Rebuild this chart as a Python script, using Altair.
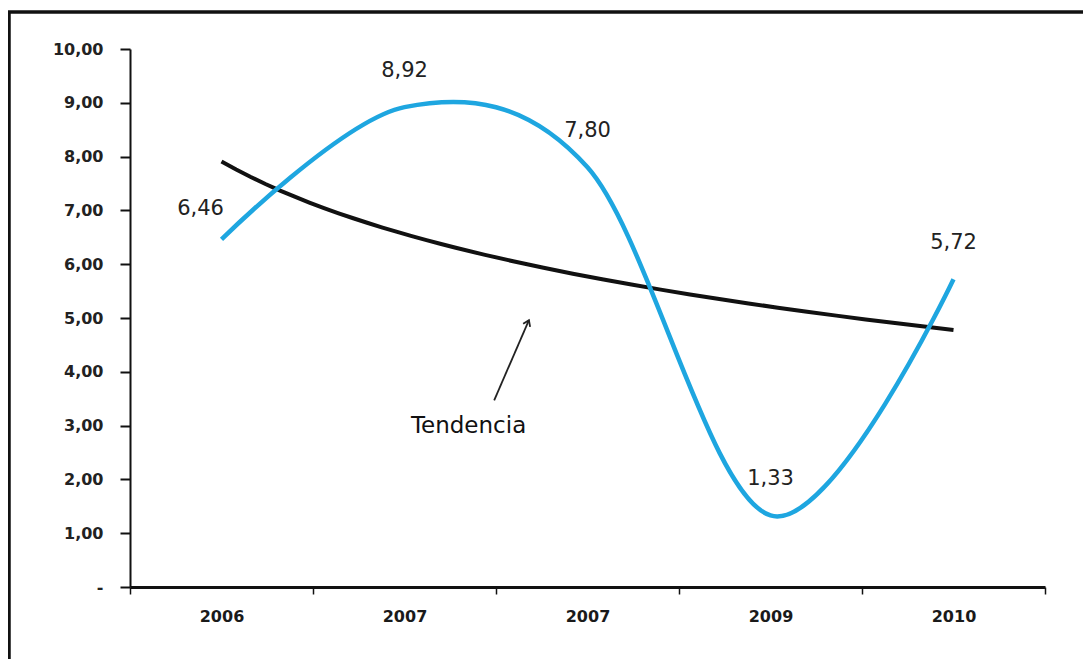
import altair as alt
import pandas as pd

years = ["2006", "2007", "2007", "2009", "2010"]
values = [6.46, 8.92, 7.80, 1.33, 5.72]
value_labels = ["6,46", "8,92", "7,80", "1,33", "5,72"]
idx = [1, 2, 3, 4, 5]

ann_text = ["Tendencia"]
ann_text_x = [2.35]
ann_text_y = [2.99]
arrow_x = [2.49, 2.68]
arrow_y = [3.47, 4.96]

df = pd.DataFrame({"idx": idx, "year": years, "value": values, "label": value_labels})
df_text = pd.DataFrame({"x": ann_text_x, "y": ann_text_y, "t": ann_text})
df_arrow = pd.DataFrame({"x": arrow_x, "y": arrow_y, "o": [0, 1]})

W, H = 915, 538
label_map = "{" + ",".join(f"'{i}':'{y}'" for i, y in zip(idx, years)) + "}"
FONT = "DejaVu Sans"

xscale = alt.Scale(domain=[0.5, 5.5], nice=False, zero=False)
yscale = alt.Scale(domain=[0, 10], nice=False)

x_axis = alt.Axis(
    values=[0.5, 1, 1.5, 2, 2.5, 3, 3.5, 4, 4.5, 5, 5.5],
    labelExpr=f"datum.value % 1 == 0 ? {label_map}[''+datum.value] : ''",
    tickOpacity={"condition": {"test": "datum.value % 1 == 0", "value": 0}, "value": 1},
    title=None, grid=False, domainColor="#111", domainWidth=3, tickColor="#111",
    tickWidth=1.5, tickSize=7, labelPadding=14, labelFont=FONT,
    labelFontWeight="bold", labelFontSize=16, labelColor="#1a1a1a",
)
y_axis = alt.Axis(
    values=list(range(0, 11)),
    labelExpr="datum.value == 0 ? '-' : replace(format(datum.value, '.2f'), '.', ',')",
    title=None, grid=False, domainColor="#111", domainWidth=2, tickColor="#111",
    tickWidth=2, tickSize=10, labelPadding=17, labelFont=FONT,
    labelFontWeight="bold", labelFontSize=16, labelColor="#222",
)

base = alt.Chart(df)

blue = base.mark_line(color="#1EA6E0", strokeWidth=4.5, interpolate="cardinal").encode(
    x=alt.X("idx:Q", scale=xscale, axis=x_axis),
    y=alt.Y("value:Q", scale=yscale, axis=y_axis),
)

trend = base.transform_regression("idx", "value", method="log", extent=[1, 5]).mark_line(
    color="#111", strokeWidth=4
).encode(x=alt.X("idx:Q", scale=xscale), y=alt.Y("value:Q", scale=yscale))

labels_main = base.transform_filter("datum.idx > 1").mark_text(
    dy=-36, fontSize=21, font=FONT, color="#222"
).encode(x=alt.X("idx:Q", scale=xscale), y=alt.Y("value:Q", scale=yscale), text="label:N")

labels_first = base.transform_filter("datum.idx == 1").mark_text(
    dy=-30, dx=-21, fontSize=21, font=FONT, color="#222"
).encode(x=alt.X("idx:Q", scale=xscale), y=alt.Y("value:Q", scale=yscale), text="label:N")

ann = alt.Chart(df_text).mark_text(fontSize=23, font=FONT, color="#111").encode(
    x=alt.X("x:Q", scale=xscale), y=alt.Y("y:Q", scale=yscale), text="t:N"
)

arrow_line = alt.Chart(df_arrow).mark_line(color="#222", strokeWidth=1.8).encode(
    x=alt.X("x:Q", scale=xscale), y=alt.Y("y:Q", scale=yscale), order="o:Q"
)
arrow_head = alt.Chart(df_arrow).transform_filter("datum.o == 1").mark_point(
    shape="M -0.6 0.9 L 0 0 L 0.6 0.9", filled=False, stroke="#222", strokeWidth=1.8,
    size=160, angle=24, opacity=1
).encode(x=alt.X("x:Q", scale=xscale), y=alt.Y("y:Q", scale=yscale))

frame_left = alt.Chart(df_text).mark_rule(color="#111", strokeWidth=3.5).encode(
    x=alt.value(-121), y=alt.value(-38), y2=alt.value(640)
)
frame_top = alt.Chart(df_text).mark_rule(color="#111", strokeWidth=3.5).encode(
    x=alt.value(-122), x2=alt.value(1000), y=alt.value(-37)
)
frame_bottom = alt.Chart(df_text).mark_rule(color="#ccc", strokeWidth=2).encode(
    x=alt.value(-122), x2=alt.value(1000), y=alt.value(614)
)

chart = alt.layer(
    frame_left, frame_top, frame_bottom, trend, blue, labels_main, labels_first,
    ann, arrow_line, arrow_head
).properties(
    width=W, height=H,
    background="white",
    autosize=alt.AutoSizeParams(type="none"),
    padding={"left": 122, "top": 41, "right": 38, "bottom": 72},
).configure_view(stroke=None)

chart.save("out.html", embed_options={"renderer": "svg", "actions": False})
